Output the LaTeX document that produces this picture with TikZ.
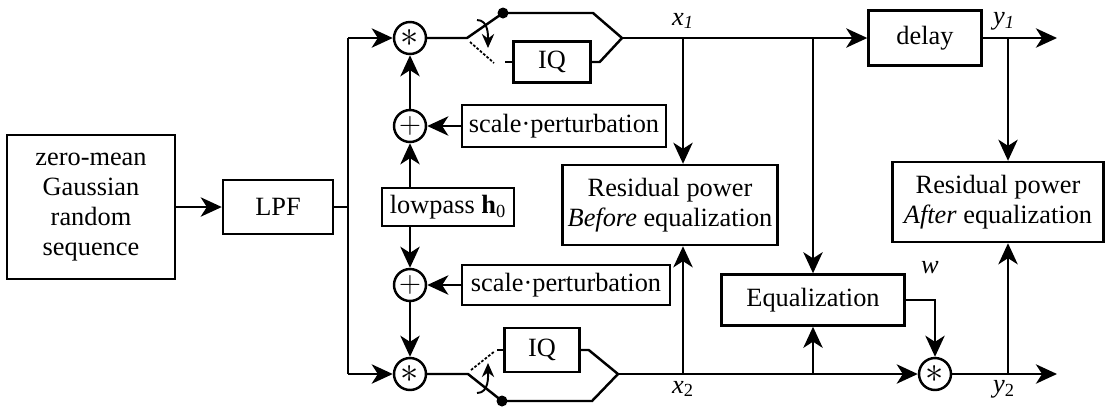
\documentclass[tikz,border=0pt]{standalone}
\usepackage{fontspec}
\setmainfont{Liberation Serif}
\usetikzlibrary{arrows.meta,positioning}

\begin{document}
\begin{tikzpicture}[x=0.02cm, y=-0.02cm, line width=1.4pt,
    font=\fontsize{15}{17}\selectfont,
    blk/.style={draw, align=center, inner sep=2pt},
    op/.style={draw, circle, minimum size=0.64cm, inner sep=0pt},
    mulop/.style={op, font=\fontsize{20}{20}\selectfont},
    addop/.style={op, font=\fontsize{16}{16}\selectfont},
    dot/.style={circle, fill, inner sep=0pt, minimum size=0.22cm},
    arr/.style={-{Stealth[length=12pt, width=11pt, inset=3.5pt]}},
    turn/.style={-{Stealth[length=8pt, width=7pt]}, line width=1.1pt},
    swpos/.style={dash pattern=on 1.5pt off 1pt, line width=1pt},
    lbl/.style={inner sep=0pt, font=\fontsize{15}{17}\selectfont\itshape},
]
\useasboundingbox (0,0) rectangle (1111,407);

% source and filter
\node[blk, minimum width=3.36cm, minimum height=2.88cm] (gauss) at (91,207) {zero-mean\\Gaussian\\random\\sequence};
\node[blk, minimum width=2.2cm, minimum height=1.08cm] (lpf) at (278,207) {LPF};
\draw[arr] (gauss) -- (lpf);

% split into two branches
\coordinate (s1) at (348,38);
\coordinate (s2) at (348,374);
\draw (lpf.east) -- (lpf.east -| s1);
\draw (s1) -- (s2);

% scale perturbation
\node[mulop] (mul1) at (410,38) {$\ast$};
\node[addop] (add1) at (410,126) {$+$};
\node[blk, minimum width=2.64cm, minimum height=0.76cm] (lp) at (448,207) {lowpass \textbf{h}\textsubscript{0}};
\node[addop] (add2) at (410,285) {$+$};
\node[mulop] (mul2) at (410,374) {$\ast$};
\node[blk, minimum width=4.08cm, minimum height=0.84cm] (sp1) at (564,126) {scale·perturbation};
\node[blk, minimum width=4.16cm, minimum height=0.8cm] (sp2) at (566,285) {scale·perturbation};
\draw[arr] (s1) -- (mul1);
\draw[arr] (s2) -- (mul2);
\draw[arr] (lp.north -| add1) -- (add1);
\draw[arr] (lp.south -| add2) -- (add2);
\draw[arr] (add1) -- (mul1);
\draw[arr] (add2) -- (mul2);
\draw[arr] (sp1) -- (add1);
\draw[arr] (sp2) -- (add2);

% upper switch and IQ
\node[blk, minimum width=1.54cm, minimum height=0.82cm] (iq1) at (552,62) {IQ};
\node[dot] (d1) at (503,13) {};
\coordinate (p1) at (467,38);
\coordinate (m1) at (622,38);
\draw (mul1) -- (p1) -- (d1.center) -- (593,13) -- (m1);
\draw (iq1.east) -- ++(8,0) -- (m1);
\draw (505,62) -- (iq1.west);
\draw[swpos] (470,42) -- (494,63);
\draw[turn] (477,20) to[out=0, in=90] (488,48);

% lower switch and IQ
\node[blk, minimum width=1.5cm, minimum height=0.88cm] (iq2) at (542,350) {IQ};
\node[dot] (d2) at (502,401) {};
\coordinate (p2) at (468,374);
\coordinate (m2) at (618,374);
\draw (mul2) -- (p2) -- (d2.center) -- (592,401) -- (m2);
\draw (iq2.east) -- ++(8,0) -- (m2);
\draw (497,350) -- (iq2.west);
\draw[swpos] (471,370) -- (495,351);
\draw[turn] (477,393) to[out=0, in=-90] (488,363);

% measurement and equalization
\node[blk, minimum width=4.3cm, minimum height=1.6cm] (before) at (670,205) {Residual power\\\textit{Before} equalization};
\node[blk, minimum width=2.26cm, minimum height=1.1cm] (delay) at (925,38) {delay};
\node[blk, minimum width=4.22cm, minimum height=1.6cm] (after) at (998,202) {Residual power\\\textit{After} equalization};
\node[blk, minimum width=3.66cm, minimum height=1.02cm] (eq) at (813,300) {Equalization};
\node[mulop] (mul3) at (935,374) {$\ast$};

\coordinate (b1) at (683,38);
\coordinate (b2) at (813,38);
\coordinate (c1) at (683,374);
\coordinate (c2) at (813,374);
\coordinate (o1) at (1008,38);
\coordinate (o2) at (1008,374);
\coordinate (e1) at (1057,38);
\coordinate (e2) at (1057,374);

\draw[arr] (m1) -- (delay);
\draw[arr] (b1) -- (b1 |- before.north);
\draw[arr] (b2) -- (b2 |- eq.north);
\draw[arr] (c1) -- (c1 |- before.south);
\draw[arr] (c2) -- (c2 |- eq.south);
\draw[arr] (m2) -- (mul3);
\draw[arr] (eq.east) -| (mul3.north);
\draw[arr] (delay.east) -- (e1);
\draw[arr] (mul3) -- (e2);
\draw[arr] (o1) -- (o1 |- after.north);
\draw[arr] (o2) -- (o2 |- after.south);

% signal labels
\node[lbl] (x1) at (683,21) {x\textsubscript{1}};
\node[lbl] (x2) at (683,389) {x\textsubscript{\upshape 2}};
\node[lbl] (y1) at (1004,21) {y\textsubscript{1}};
\node[lbl] (y2) at (1004,389) {y\textsubscript{\upshape 2}};
\node[lbl] (w) at (930,268) {w};
\end{tikzpicture}
\end{document}
